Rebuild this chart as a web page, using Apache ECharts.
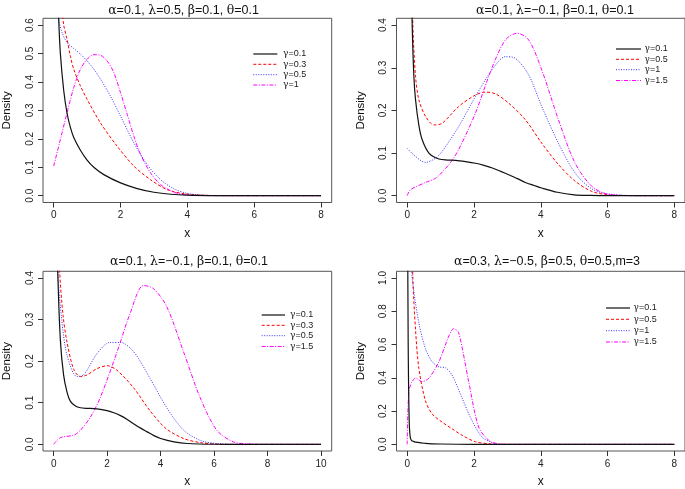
<!DOCTYPE html>
<html><head><meta charset="utf-8">
<script src="https://cdn.jsdelivr.net/npm/echarts@6/dist/echarts.min.js"></script>
<style>html,body{margin:0;padding:0;background:#fff}#c{width:685px;height:489px}</style>
</head><body><div id="c"></div>
<script>
// ---- Titles ----
const titles = ['{g|α}=0.1, {g|λ}=0.5, {g|β}=0.1, {g|θ}=0.1', '{g|α}=0.1, {g|λ}=−0.1, {g|β}=0.1, {g|θ}=0.1', '{g|α}=0.1, {g|λ}=−0.1, {g|β}=0.1, {g|θ}=0.1', '{g|α}=0.3, {g|λ}=−0.5, {g|β}=0.5, {g|θ}=0.5,m=3'];
// ---- Legend labels ----
const leg1 = ['γ=0.1', 'γ=0.3', 'γ=0.5', 'γ=1'];
const leg2 = ['γ=0.1', 'γ=0.5', 'γ=1', 'γ=1.5'];
const leg3 = ['γ=0.1', 'γ=0.3', 'γ=0.5', 'γ=1.5'];
const leg4 = ['γ=0.1', 'γ=0.5', 'γ=1', 'γ=1.5'];
// ---- Tick labels ----
const xt1 = [0, 2, 4, 6, 8];
const yt1 = [0, 0.1, 0.2, 0.3, 0.4, 0.5, 0.6];
const xt2 = [0, 2, 4, 6, 8];
const yt2 = [0, 0.1, 0.2, 0.3, 0.4];
const xt3 = [0, 2, 4, 6, 8, 10];
const yt3 = [0, 0.1, 0.2, 0.3, 0.4];
const xt4 = [0, 2, 4, 6, 8];
const yt4 = [0, 0.2, 0.4, 0.6, 0.8, 1.0];

// ---- Panel 1 curves [x, density] ----
const p1_a = [[0.08,0.95],[0.12,0.74],[0.15,0.62],[0.2,0.5],[0.3,0.37],[0.4,0.29],[0.5,0.24],[0.6,0.205],[0.8,0.16],[1.0,0.125],[1.2,0.1],[1.5,0.074],[2,0.045],[2.5,0.025],[3,0.012],[3.5,0.005],[4,0.002],[5,0.0003],[6,0],[8,0]];
const p1_b = [[0.2,0.72],[0.25,0.66],[0.3,0.6],[0.4,0.55],[0.5,0.49],[0.6,0.445],[0.8,0.386],[1.0,0.339],[1.4,0.256],[1.9,0.174],[2.4,0.104],[2.9,0.056],[3.4,0.021],[3.9,0.007],[4.5,0.0015],[5,0.0002],[6,0],[8,0]];
const p1_c = [[0.1,0.68],[0.15,0.62],[0.25,0.574],[0.4,0.539],[0.6,0.518],[0.8,0.498],[1.0,0.474],[1.2,0.445],[1.4,0.41],[1.7,0.35],[2.0,0.28],[2.4,0.186],[2.8,0.109],[3.2,0.056],[3.6,0.024],[4.0,0.008],[4.4,0.002],[5,0.0003],[6,0],[8,0]];
const p1_d = [[0,0.104],[0.2,0.198],[0.4,0.292],[0.6,0.38],[0.8,0.445],[1.0,0.48],[1.2,0.496],[1.4,0.494],[1.6,0.474],[1.8,0.433],[2.0,0.362],[2.2,0.286],[2.4,0.209],[2.6,0.145],[2.9,0.08],[3.2,0.039],[3.6,0.012],[4.0,0.002],[4.5,0.0003],[5,0],[8,0]];

// ---- Panel 2 curves ----
const p2_a = [[0.1,0.6],[0.15,0.4],[0.2,0.28],[0.25,0.225],[0.35,0.165],[0.45,0.131],[0.65,0.1],[0.95,0.086],[1.2,0.0835],[1.45,0.083],[1.75,0.08],[2.05,0.076],[2.3,0.071],[2.55,0.065],[2.8,0.057],[3.04,0.049],[3.3,0.04],[3.54,0.031],[3.8,0.024],[4.03,0.018],[4.5,0.008],[5.0,0.002],[5.5,0.0005],[6,0],[8,0]];
const p2_b = [[0.12,0.6],[0.17,0.4],[0.25,0.28],[0.35,0.225],[0.55,0.186],[0.8,0.166],[1.05,0.17],[1.54,0.209],[2.04,0.236],[2.34,0.243],[2.64,0.239],[3.04,0.217],[3.54,0.178],[4.03,0.123],[4.53,0.073],[5.03,0.034],[5.53,0.01],[6.03,0.002],[7,0],[8,0]];
const p2_c = [[0,0.111],[0.25,0.092],[0.55,0.078],[0.85,0.088],[1.05,0.104],[1.54,0.162],[2.04,0.232],[2.54,0.295],[2.94,0.326],[3.24,0.322],[3.64,0.283],[4.03,0.209],[4.53,0.123],[5.03,0.053],[5.53,0.016],[6.03,0.004],[7,0],[8,0]];
const p2_d = [[0,0],[0.1,0.014],[0.55,0.031],[0.85,0.041],[1.25,0.073],[1.54,0.108],[2.04,0.193],[2.54,0.3],[2.94,0.365],[3.29,0.381],[3.64,0.365],[4.03,0.295],[4.53,0.178],[5.03,0.076],[5.53,0.022],[6.03,0.003],[7,0],[8,0]];

// ---- Panel 3 curves ----
const p3_a = [[0.1,0.6],[0.15,0.42],[0.25,0.25],[0.37,0.167],[0.5,0.125],[0.62,0.104],[0.8,0.093],[1.0,0.088],[1.25,0.0865],[1.5,0.086],[1.75,0.084],[2.0,0.081],[2.25,0.076],[2.5,0.069],[2.75,0.06],[3.0,0.049],[3.25,0.039],[3.5,0.03],[3.75,0.021],[4.0,0.014],[4.5,0.006],[5.0,0.002],[6,0.0002],[7,0],[10,0]];
const p3_b = [[0.15,0.6],[0.22,0.42],[0.35,0.31],[0.5,0.245],[0.75,0.18],[1.0,0.163],[1.25,0.167],[1.62,0.182],[2.0,0.189],[2.37,0.178],[3.0,0.135],[3.6,0.081],[4.2,0.038],[4.86,0.014],[5.5,0.004],[6.2,0.0005],[7,0],[10,0]];
const p3_c = [[0.1,0.6],[0.15,0.42],[0.3,0.3],[0.5,0.214],[0.87,0.163],[1.12,0.167],[1.62,0.218],[2.1,0.245],[2.5,0.245],[3.0,0.222],[3.6,0.159],[4.23,0.088],[4.86,0.034],[5.5,0.009],[6.1,0.002],[7,0],[10,0]];
const p3_d = [[0,0],[0.25,0.016],[0.75,0.022],[1.0,0.034],[1.37,0.065],[1.74,0.112],[2.37,0.222],[2.86,0.315],[3.36,0.382],[3.74,0.374],[4.23,0.331],[4.86,0.222],[5.48,0.112],[6.1,0.034],[6.72,0.006],[7.3,0.001],[8,0],[10,0]];

// ---- Panel 4 curves ----
const p4_a = [[0.01,1.5],[0.03,0.6],[0.06,0.15],[0.1,0.035],[0.2,0.016],[0.55,0.006],[1.0,0.002],[2,0],[8,0]];
const p4_b = [[0.14,1.4],[0.17,1.0],[0.25,0.69],[0.35,0.456],[0.55,0.26],[0.75,0.182],[1.05,0.133],[1.34,0.094],[1.64,0.055],[2.04,0.016],[2.54,0.002],[3,0],[8,0]];
const p4_c = [[0.12,1.2],[0.15,1.0],[0.35,0.73],[0.55,0.574],[0.75,0.496],[0.95,0.466],[1.15,0.46],[1.34,0.417],[1.64,0.28],[1.94,0.143],[2.24,0.045],[2.54,0.01],[2.8,0],[8,0]];
const p4_d = [[0,0],[0.05,0.32],[0.15,0.378],[0.25,0.398],[0.45,0.378],[0.65,0.398],[0.95,0.496],[1.25,0.652],[1.39,0.695],[1.54,0.672],[1.84,0.378],[2.14,0.104],[2.44,0.025],[2.74,0.002],[3,0],[8,0]];

const FONT = '"Liberation Sans", Arial, Helvetica, sans-serif';
const GFONT = '"DejaVu Serif", "Liberation Serif", serif';
const styles = [
  {color:'#111', width:1.2, type:'solid'},
  {color:'#ff0000', width:1, type:[3,2]},
  {color:'#3333ff', width:1, type:[1,1.5]},
  {color:'#ff00ff', width:1, type:[4,1.5,1,1.5]}
];
// panel box geometry
const boxes = [
  {left:43, top:18.3, width:288.7, height:184.2},
  {left:396.5, top:18.3, width:288.8, height:184.2},
  {left:43, top:271.3, width:288.7, height:183.7},
  {left:396.5, top:271.3, width:288.8, height:183.7}
];
const xr = [[-0.32,8.32],[-0.32,8.32],[-0.4,10.4],[-0.32,8.32]];
const yr = [[-0.024,0.624],[-0.016,0.416],[-0.016,0.416],[-0.04,1.04]];
const xticks = [xt1, xt2, xt3, xt4];
const yticks = [yt1, yt2, yt3, yt4];
const curves = [[p1_a,p1_b,p1_c,p1_d],[p2_a,p2_b,p2_c,p2_d],[p3_a,p3_b,p3_c,p3_d],[p4_a,p4_b,p4_c,p4_d]];
const legs = [leg1, leg2, leg3, leg4];
const titleX = [178.5, 550, 184, 542];
const titleY = [-1, -1, 250, 250];
// legend layout: line x-range, text x, row centres
const legLay = [
  {x1:253.3, x2:277.3, tx:283, rows:[54, 64.3, 74.7, 85]},
  {x1:616, x2:641, tx:644.5, rows:[49, 59.3, 69.7, 80.5]},
  {x1:261.7, x2:285, tx:290, rows:[315, 325.3, 335.7, 346.5]},
  {x1:606, x2:630, tx:633.5, rows:[308, 319.3, 330.7, 342]}
];

const option = {
  animation:false,
  backgroundColor:'#fff',
  title:[], grid:[], xAxis:[], yAxis:[], series:[], graphic:[]
};
for (let p=0;p<4;p++){
  option.title.push({text:titles[p], left:titleX[p], top:titleY[p], textAlign:'center',
    textStyle:{fontFamily:FONT, fontSize:12.5, fontWeight:'normal', color:'#111',
      rich:{g:{fontFamily:GFONT, fontSize:12.5, color:'#111'}}}});
  option.grid.push(Object.assign({show:true, borderColor:'#555', borderWidth:1, backgroundColor:'transparent', containLabel:false}, boxes[p]));
  option.xAxis.push({type:'value', gridIndex:p, min:xr[p][0], max:xr[p][1],
    axisLine:{show:false, onZero:false},
    axisTick:{show:true, customValues:xticks[p], length:5, lineStyle:{color:'#333'}},
    axisLabel:{customValues:xticks[p], fontFamily:FONT, fontSize:10, color:'#222', margin:8},
    splitLine:{show:false},
    name:'x', nameLocation:'middle', nameGap:25, nameTextStyle:{fontFamily:FONT, fontSize:12, color:'#111'}});
  option.yAxis.push({type:'value', gridIndex:p, min:yr[p][0], max:yr[p][1],
    axisLine:{show:false, onZero:false},
    axisTick:{show:true, customValues:yticks[p], length:5, lineStyle:{color:'#333'}},
    axisLabel:{customValues:yticks[p], rotate:90, fontFamily:FONT, fontSize:10, color:'#222', margin:8,
      formatter:v=>v.toFixed(1)},
    splitLine:{show:false},
    name:'Density', nameLocation:'middle', nameGap:30, nameRotate:90,
    nameTextStyle:{fontFamily:FONT, fontSize:11.5, color:'#111'}});
  const L = legLay[p];
  for (let s=0;s<4;s++){
    option.series.push({type:'line', name:legs[p][s], xAxisIndex:p, yAxisIndex:p, data:curves[p][s],
      symbol:'none', smooth:0.3, clip:true, lineStyle:styles[s], itemStyle:{color:styles[s].color},
      z: s===0?5:3});
    const y = L.rows[s];
    option.graphic.push({type:'line', silent:true, z:10,
      shape:{x1:L.x1, y1:y, x2:L.x2, y2:y},
      style:{stroke:styles[s].color, lineWidth:styles[s].width, lineDash: styles[s].type==='solid'?null:styles[s].type}});
    option.graphic.push({type:'text', silent:true, z:10, x:L.tx, y:y,
      style:{text:'{g|γ}'+legs[p][s].slice(1), fill:'#222', font:'9px '+FONT, verticalAlign:'middle', align:'left',
        rich:{g:{fontFamily:GFONT, fontSize:9, fill:'#222'}}}});
  }
}
const chart = echarts.init(document.getElementById('c'), null, {renderer:'canvas'});
chart.setOption(option);
</script></body></html>
